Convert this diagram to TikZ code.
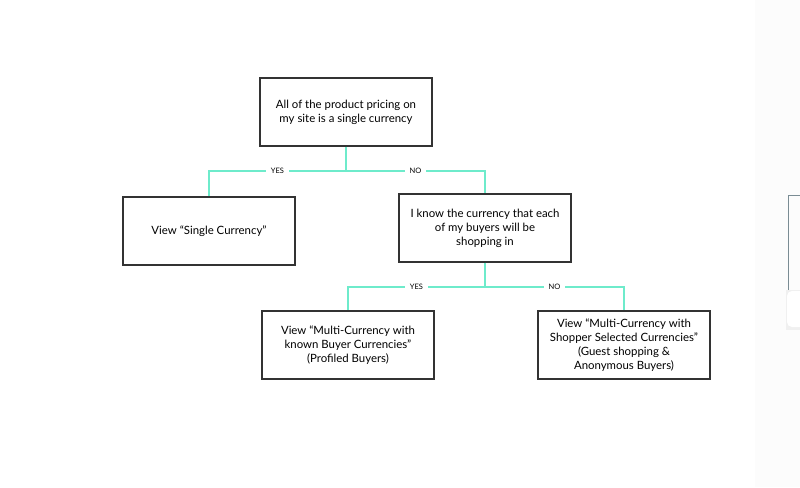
\documentclass[tikz,border=0pt]{standalone}
\usepackage{fontspec}
\setmainfont{Lato}
\usetikzlibrary{positioning}
\definecolor{conncol}{HTML}{6EEBCB}
\definecolor{boxcol}{HTML}{333333}
\definecolor{edgecol}{HTML}{7A8C94}
\begin{document}
\begin{tikzpicture}[x=1pt,y=-1pt,
  box/.style={draw=boxcol,line width=1.3pt,minimum width=172pt,minimum height=68pt,align=center,inner sep=0pt,font=\fontsize{11.4}{14}\selectfont},
  conn/.style={draw=conncol,line width=1.2pt},
  lab/.style={fill=white,inner xsep=5pt,inner ysep=1pt,font=\fontsize{7.5}{8}\selectfont}]
\useasboundingbox (0,0) rectangle (800,487);
\fill[white] (0,0) rectangle (800,487);
\fill[black!1.2] (755,0) rectangle (800,487);
\draw[edgecol,line width=1pt] (800,195) -- (788,195) -- (788,300);
\fill[black!6] (786,290) rectangle (800,330);
\fill[white,rounded corners=5pt] (787,291) rectangle (805,327);

\node[box] (top) at (346,112) {All of the product pricing on\\my site is a single currency};
\node[box] (single) at (209,231) {View “Single Currency”};
\node[box] (know) at (485,228) {I know the currency that each\\of my buyers will be\\shopping in};
\node[box] (known) at (348,345) {View “Multi-Currency with\\known Buyer Currencies”\\(Profiled Buyers)};
\node[box] (shopper) at (624,345) {View “Multi-Currency with\\Shopper Selected Currencies”\\(Guest shopping \&\\Anonymous Buyers)};

\coordinate (j1) at (346,171);
\coordinate (j2) at (485,287);
\draw[conn] (top.south) -- (j1);
\draw[conn] (j1) -| (single.north) node[lab,pos=0.25] {YES};
\draw[conn] (j1) -| (know.north) node[lab,pos=0.25] {NO};
\draw[conn] (know.south) -- (j2);
\draw[conn] (j2) -| (known.north) node[lab,pos=0.25] {YES};
\draw[conn] (j2) -| (shopper.north) node[lab,pos=0.25] {NO};
\end{tikzpicture}
\end{document}
